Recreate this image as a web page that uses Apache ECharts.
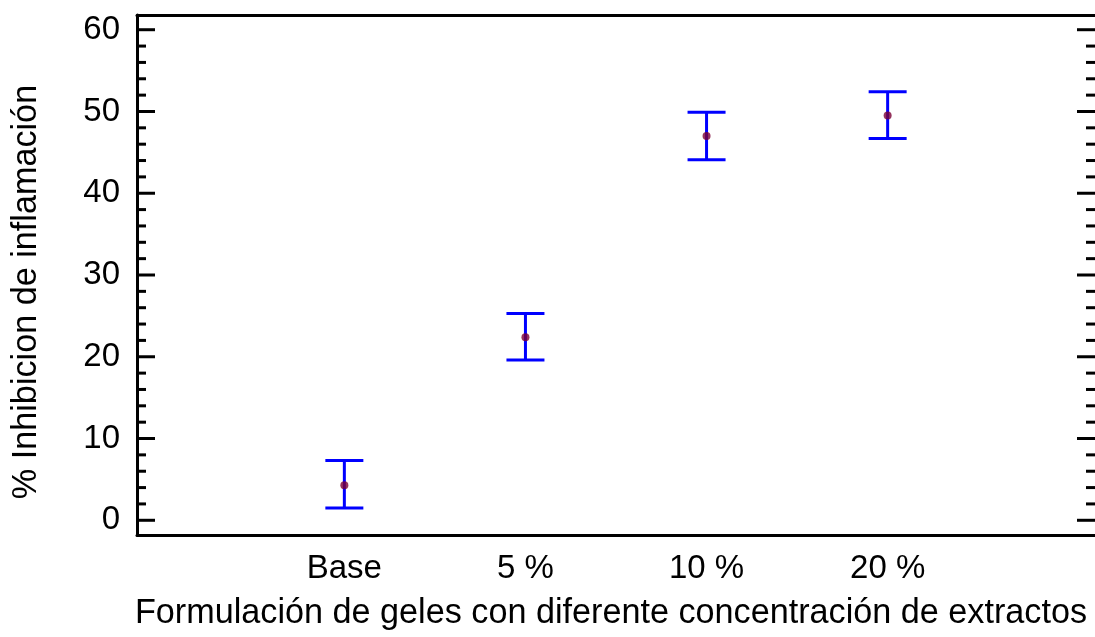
<!DOCTYPE html>
<html>
<head>
<meta charset="utf-8">
<script src="https://cdn.jsdelivr.net/npm/echarts@6/dist/echarts.min.js"></script>
<style>
html,body{margin:0;padding:0;background:#fff;}
#chart{width:1095px;height:637px;}
</style>
</head>
<body>
<div id="chart"></div>
<script>
const categories = ['Base', '5 %', '10 %', '20 %'];
const means = [4.3, 22.4, 47.0, 49.5];
const lower = [1.5, 19.6, 44.1, 46.7];
const upper = [7.3, 25.3, 49.9, 52.4];
const yMajorTicks = [0, 10, 20, 30, 40, 50, 60];
const yMinorTicks = [2, 4, 6, 8, 12, 14, 16, 18, 22, 24, 26, 28, 32, 34, 36, 38, 42, 44, 46, 48, 52, 54, 56, 58];
const xTitle = 'Formulación de geles con diferente concentración de extractos';
const yTitle = '% Inhibicion de inflamación';

const FONT = 'Liberation Sans, Arial, sans-serif';
const FS = 33;
const FT = 34.2;
const YMIN = -1.8, YMAX = 61.8;
const XMIN = -0.145, XMAX = 5.145;
const MAJOR_LEN = 18, MINOR_LEN = 9;

const chart = echarts.init(document.getElementById('chart'), null, {renderer: 'canvas'});

const errData = categories.map((c, i) => [i + 1, lower[i], upper[i]]);
const ptData = categories.map((c, i) => [i + 1, means[i]]);
const tickData = yMajorTicks.map(v => [v, MAJOR_LEN]).concat(yMinorTicks.map(v => [v, MINOR_LEN]));

const option = {
  backgroundColor: '#fff',
  animation: false,
  grid: {left: 137, right: -3, top: 15, bottom: 102, containLabel: false},
  xAxis: [
    {
      type: 'value', min: XMIN, max: XMAX, position: 'bottom',
      splitLine: {show: false},
      axisLine: {show: true, onZero: false, lineStyle: {color: '#000', width: 3}},
      axisTick: {show: false},
      axisLabel: {
        show: true, customValues: [1, 2, 3, 4],
        formatter: v => categories[Math.round(v) - 1] || '',
        color: '#000', fontFamily: FONT, fontSize: FS, margin: 17
      },
      name: xTitle, nameLocation: 'middle', nameGap: 62,
      nameTextStyle: {color: '#000', fontFamily: FONT, fontSize: FT, padding: [0, 10, 0, 0]}
    },
    {
      type: 'value', min: XMIN, max: XMAX, position: 'top',
      splitLine: {show: false},
      axisLine: {show: true, onZero: false, lineStyle: {color: '#000', width: 3}},
      axisTick: {show: false}, axisLabel: {show: false}
    }
  ],
  yAxis: [
    {
      type: 'value', min: YMIN, max: YMAX, position: 'left',
      splitLine: {show: false},
      axisLine: {show: true, onZero: false, lineStyle: {color: '#000', width: 3}},
      axisTick: {show: false},
      axisLabel: {show: true, customValues: yMajorTicks, color: '#000', fontFamily: FONT, fontSize: FS, margin: 17},
      name: yTitle, nameLocation: 'middle', nameGap: 93, nameRotate: 90,
      nameTextStyle: {color: '#000', fontFamily: FONT, fontSize: FT, padding: [0, 34, 0, 0]}
    }
  ],
  series: [
    {
      // inward tick marks on the left and right frame edges
      type: 'custom',
      xAxisIndex: 0, yAxisIndex: 0,
      data: tickData,
      encode: {y: 0},
      clip: false,
      silent: true,
      renderItem: function (params, api) {
        const cs = params.coordSys;
        const y = api.coord([XMIN, api.value(0)])[1];
        const len = api.value(1);
        const left = cs.x, right = cs.x + cs.width;
        const style = {stroke: '#000', lineWidth: 3};
        return {
          type: 'group',
          children: [
            {type: 'line', shape: {x1: left, y1: y, x2: left + len, y2: y}, style: style},
            {type: 'line', shape: {x1: right - len, y1: y, x2: right, y2: y}, style: style}
          ]
        };
      },
      z: 1
    },
    {
      type: 'custom',
      xAxisIndex: 0, yAxisIndex: 0,
      data: errData,
      encode: {x: 0, y: [1, 2]},
      renderItem: function (params, api) {
        const x = api.value(0);
        const lo = api.coord([x, api.value(1)]);
        const hi = api.coord([x, api.value(2)]);
        const hw = 19;
        const style = {stroke: '#0000ff', lineWidth: 3, fill: null};
        return {
          type: 'group',
          children: [
            {type: 'line', shape: {x1: lo[0], y1: lo[1], x2: hi[0], y2: hi[1]}, style: style},
            {type: 'line', shape: {x1: lo[0] - hw, y1: lo[1], x2: lo[0] + hw, y2: lo[1]}, style: style},
            {type: 'line', shape: {x1: hi[0] - hw, y1: hi[1], x2: hi[0] + hw, y2: hi[1]}, style: style}
          ]
        };
      },
      z: 2
    },
    {
      type: 'scatter',
      xAxisIndex: 0, yAxisIndex: 0,
      data: ptData,
      symbol: 'circle', symbolSize: 8,
      itemStyle: {color: '#7a0035'},
      z: 3
    }
  ]
};
chart.setOption(option);
</script>
</body>
</html>
